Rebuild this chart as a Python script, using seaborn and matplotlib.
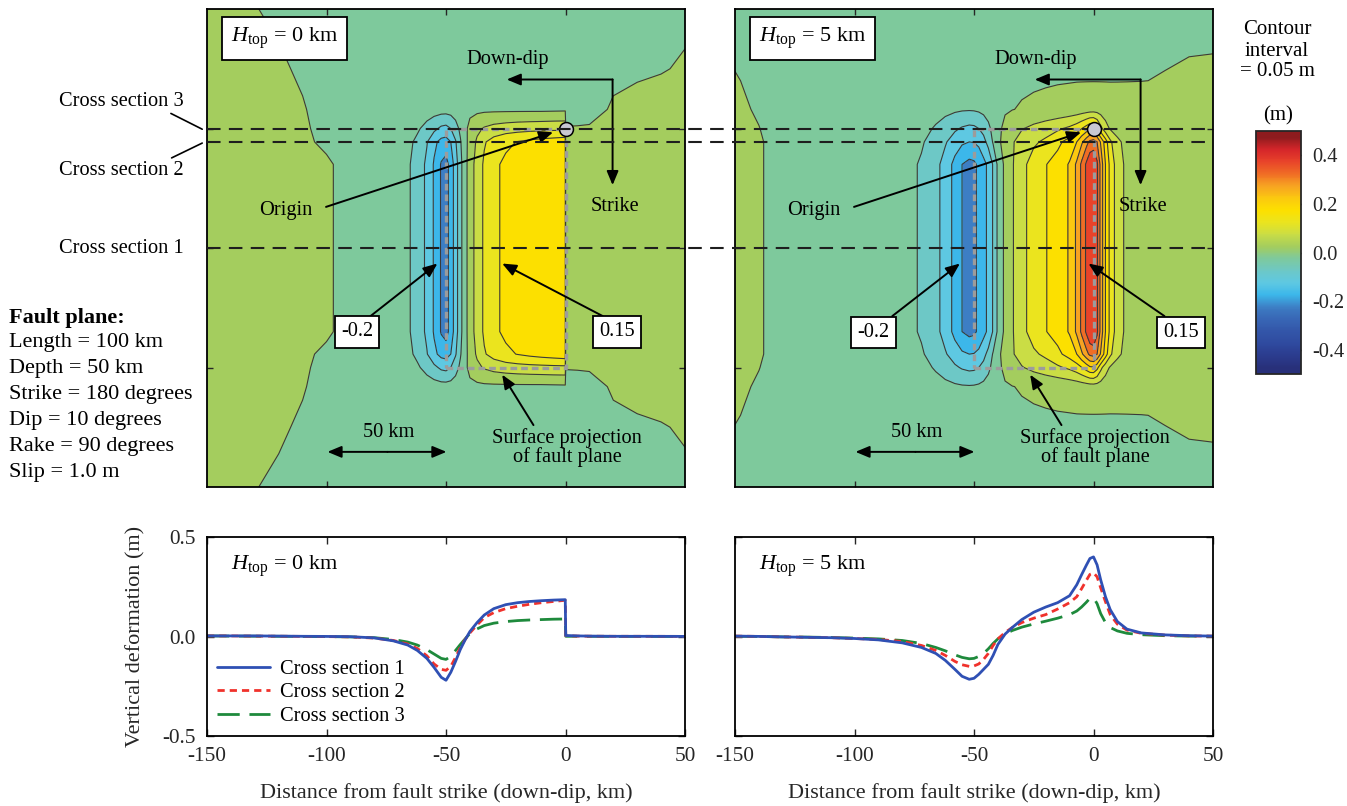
import numpy as np
import matplotlib
matplotlib.use("Agg")
import matplotlib.pyplot as plt
import seaborn as sns
from matplotlib.colors import LinearSegmentedColormap, Normalize
from matplotlib.cm import ScalarMappable

# ---- data ----
# down-dip distance from fault strike (km) where profiles were read
dist_h0 = [-150, -140, -130, -120, -110, -100, -90, -80, -72, -66,
           -62, -58, -55, -52, -50, -48, -46, -44, -42, -40,
           -37, -34, -30, -25, -20, -15, -10, -5, -0.1, 0.1,
           5, 10, 20, 30, 40, 50]
dist_h5 = [-150, -140, -130, -120, -110, -100, -90, -80, -72, -66,
           -62, -58, -55, -52, -50, -48, -46, -44, -42, -40,
           -37, -34, -30, -25, -20, -15, -10, -7, -5, -3,
           -1.5, 0, 1.5, 3, 5, 7, 10, 14, 20, 30,
           40, 50]

# vertical deformation (m), H_top = 0 km
cs1_h0 = [0.003, 0.003, 0.003, 0.002, 0.001, 0.0004, -0.001, -0.007, -0.022, -0.043,
          -0.07, -0.11, -0.155, -0.205, -0.22, -0.18, -0.125, -0.065, -0.017, 0.025,
          0.07, 0.108, 0.14, 0.16, 0.17, 0.176, 0.18, 0.183, 0.185, 0.005,
          0.003, 0.002, 0.001, 0.001, 0.0008, 0.0005]
cs2_h0 = [0.003, 0.003, 0.002, 0.0015, 0.0005, -0.0005, -0.002, -0.008, -0.02, -0.038,
          -0.06, -0.097, -0.138, -0.165, -0.17, -0.15, -0.105, -0.055, -0.015, 0.018,
          0.058, 0.095, 0.12, 0.14, 0.152, 0.162, 0.17, 0.176, 0.182, 0.004,
          0.002, 0.0015, 0.001, 0.001, 0.0008, 0.0005]
cs3_h0 = [0.003, 0.002, 0.0015, 0.001, 0.0003, -0.0006, -0.002, -0.006, -0.015, -0.028,
          -0.043, -0.066, -0.088, -0.11, -0.115, -0.1, -0.07, -0.04, -0.012, 0.015,
          0.038, 0.055, 0.067, 0.075, 0.08, 0.083, 0.085, 0.087, 0.088, 0.001,
          0.001, 0.0008, 0.0006, 0.0005, 0.0004, 0.0003]
# rows beyond the fault ends (8, 25, 50 km past the end)
end8_h0 = [0.003, 0.002, 0.0015, 0.001, 0.0002, -0.001, -0.003, -0.006, -0.01, -0.015,
           -0.02, -0.025, -0.028, -0.03, -0.03, -0.028, -0.024, -0.02, -0.016, -0.013,
           -0.011, -0.01, -0.01, -0.01, -0.01, -0.01, -0.01, -0.009, -0.008, -0.008,
           -0.006, -0.003, 0.001, 0.002, 0.002, 0.002]
end25_h0 = [0.002, 0.0015, 0.001, 0.0004, -0.0004, -0.001, -0.002, -0.004, -0.006, -0.008,
            -0.009, -0.01, -0.011, -0.011, -0.011, -0.011, -0.01, -0.01, -0.009, -0.009,
            -0.008, -0.008, -0.007, -0.007, -0.006, -0.006, -0.005, -0.005, -0.004, -0.004,
            -0.004, -0.003, -0.002, -0.001, -0.0003, 0.0005]
end50_h0 = [0.001, 0.0005, 0.0001, -0.0005, -0.001, -0.0015, -0.002, -0.003, -0.004, -0.004,
            -0.005, -0.005, -0.005, -0.005, -0.005, -0.005, -0.005, -0.005, -0.005, -0.005,
            -0.004, -0.004, -0.004, -0.004, -0.003, -0.003, -0.003, -0.003, -0.003, -0.003,
            -0.003, -0.002, -0.002, -0.002, -0.001, -0.001]

# vertical deformation (m), H_top = 5 km
cs1_h5 = [0.002, 0.0005, -0.002, -0.004, -0.006, -0.01, -0.017, -0.032, -0.055, -0.085,
          -0.12, -0.165, -0.2, -0.215, -0.21, -0.19, -0.165, -0.14, -0.095, -0.04,
          0.012, 0.045, 0.085, 0.122, 0.148, 0.17, 0.205, 0.26, 0.31, 0.358,
          0.392, 0.4, 0.36, 0.285, 0.2, 0.135, 0.075, 0.037, 0.018, 0.008,
          0.004, 0.002]
cs2_h5 = [0.002, 0.0005, -0.002, -0.004, -0.006, -0.01, -0.015, -0.025, -0.045, -0.07,
          -0.095, -0.125, -0.142, -0.15, -0.148, -0.138, -0.115, -0.085, -0.045, -0.012,
          0.02, 0.045, 0.07, 0.092, 0.11, 0.138, 0.17, 0.2, 0.24, 0.282,
          0.312, 0.32, 0.3, 0.245, 0.175, 0.11, 0.062, 0.032, 0.016, 0.007,
          0.003, 0.002]
cs3_h5 = [0.001, 0.0001, -0.002, -0.003, -0.005, -0.008, -0.012, -0.02, -0.035, -0.055,
          -0.072, -0.092, -0.105, -0.112, -0.11, -0.1, -0.085, -0.062, -0.035, -0.012,
          0.012, 0.03, 0.047, 0.063, 0.077, 0.092, 0.11, 0.128, 0.148, 0.172,
          0.192, 0.195, 0.165, 0.115, 0.07, 0.045, 0.028, 0.016, 0.009, 0.004,
          0.002, 0.001]
end8_h5 = [0.001, -0.0005, -0.003, -0.005, -0.008, -0.011, -0.015, -0.02, -0.026, -0.032,
           -0.037, -0.042, -0.045, -0.046, -0.045, -0.042, -0.036, -0.028, -0.02, -0.012,
           -0.005, -0.001, 0.003, 0.006, 0.009, 0.012, 0.016, 0.019, 0.022, 0.025,
           0.027, 0.028, 0.027, 0.025, 0.022, 0.019, 0.016, 0.012, 0.009, 0.006,
           0.004, 0.003]
end20_h5 = [0.0003, -0.001, -0.003, -0.005, -0.007, -0.009, -0.011, -0.014, -0.016, -0.018,
            -0.019, -0.02, -0.02, -0.02, -0.02, -0.019, -0.018, -0.016, -0.014, -0.012,
            -0.01, -0.008, -0.006, -0.004, -0.003, -0.002, -0.0015, -0.001, -0.001, -0.001,
            -0.001, -0.001, -0.001, -0.001, -0.001, -0.001, -0.0008, -0.0005, -0.0002, 0.0005,
            0.001, 0.0012]
end50_h5 = [-0.002, -0.003, -0.003, -0.004, -0.004, -0.005, -0.005, -0.006, -0.006, -0.006,
            -0.006, -0.006, -0.006, -0.006, -0.006, -0.006, -0.006, -0.006, -0.006, -0.005,
            -0.005, -0.005, -0.005, -0.004, -0.004, -0.004, -0.004, -0.004, -0.004, -0.004,
            -0.004, -0.004, -0.004, -0.004, -0.004, -0.004, -0.004, -0.003, -0.003, -0.003,
            -0.002, -0.002]

# along-strike position (km from origin) of each map row
rows_y_h0 = [-150, -125, -108, -100, -94.4, -85, -50, -15, -5.6, 0, 8, 25, 50]
rows_y_h5 = [-150, -120, -108, -100, -94.4, -85, -50, -15, -5.6, 0, 8, 20, 50]
rows_h0 = [end50_h0, end25_h0, end8_h0, cs3_h0, cs2_h0, cs1_h0, cs1_h0, cs1_h0,
           cs2_h0, cs3_h0, end8_h0, end25_h0, end50_h0]
rows_h5 = [end50_h5, end20_h5, end8_h5, cs3_h5, cs2_h5, cs1_h5, cs1_h5, cs1_h5,
           cs2_h5, cs3_h5, end8_h5, end20_h5, end50_h5]

cross_section_y = [-50, -5.6, 0]
fault_x = [-50, 0]
fault_y = [-100, 0]
origin_xy = (0, 0)

levels = np.round(np.arange(-0.5, 0.501, 0.05), 2)
band_colors = ['#28307a', '#2b3c8e', '#2f4a9f', '#3356a9', '#3866b5',
               '#3d7ec4', '#3cb7ea', '#5ec8e2', '#6dc8c6', '#7ec99c',
               '#a4cd5e', '#cadd45', '#ebe41e', '#fce000', '#fbc810',
               '#f7a322', '#f06d25', '#e8432a', '#d5262a', '#8e1b1e']

fault_info = ["Length = 100 km", "Depth = 50 km", "Strike = 180 degrees",
              "Dip = 10 degrees", "Rake = 90 degrees", "Slip = 1.0 m"]

# ---- style ----
sns.set_style("ticks")
plt.rcParams['font.family'] = ['Liberation Serif', 'DejaVu Serif']
plt.rcParams['mathtext.fontset'] = 'custom'
plt.rcParams['mathtext.rm'] = 'Liberation Serif'
plt.rcParams['mathtext.it'] = 'Liberation Serif:italic'
plt.rcParams['axes.unicode_minus'] = False
plt.rcParams['text.color'] = 'black'
plt.rcParams['contour.negative_linestyle'] = 'solid'

FS = 14.7
W, H = 1347, 806
fig = plt.figure(figsize=(W / 100, H / 100), dpi=100)


def box(l, t, r, b):
    return [l / W, 1 - b / H, (r - l) / W, (b - t) / H]


axL = fig.add_axes(box(207, 9, 685, 487))
axR = fig.add_axes(box(735, 9, 1213, 487))
axBL = fig.add_axes(box(207, 537, 685, 736))
axBR = fig.add_axes(box(735, 537, 1213, 736))
cax = fig.add_axes(box(1256, 131, 1301, 374))


def arrow(ax, tail, head, style='-|>'):
    ax.annotate('', xy=head, xytext=tail, zorder=8,
                arrowprops=dict(arrowstyle=style + ',head_length=0.6,head_width=0.25',
                                color='black', lw=1.4, mutation_scale=14,
                                shrinkA=0, shrinkB=0))


def draw_map(ax, dist, rows_y, rows, htop, val_label, val_xy, val_tail, val_head,
             neg_xy, neg_tail, neg_head):
    z = np.array(rows)
    ax.contourf(dist, rows_y, z, levels=levels, colors=band_colors, zorder=0)
    ax.contour(dist, rows_y, z, levels=levels, colors='#3a3a3a', linewidths=0.8,
               linestyles='solid', zorder=1)
    fx = [fault_x[0], fault_x[1], fault_x[1], fault_x[0], fault_x[0]]
    fy = [fault_y[0], fault_y[0], fault_y[1], fault_y[1], fault_y[0]]
    ax.plot(fx, fy, color='#9c9c9c', lw=2.4, linestyle=(0, (2, 1.2)), zorder=3)
    ax.plot(*origin_xy, 'o', ms=10, mfc='#c8c8d2', mec='black', mew=1.1, zorder=10)
    ax.set_xlim(-150, 50)
    ax.set_ylim(-150, 50)
    ax.set_xticks([-100, -50, 0])
    ax.set_yticks([-100, -50, 0])
    ax.tick_params(direction='in', top=True, right=True, length=4, width=1,
                   labelbottom=False, labelleft=False)
    for s in ax.spines.values():
        s.set_linewidth(1.3)
        s.set_color('black')

    ax.text(-117.5, 37.8, r"$H_{\mathrm{top}}$ = %d km" % htop, fontsize=16,
            ha='center', va='center', zorder=9,
            bbox=dict(boxstyle='square,pad=0.4', fc='white', ec='black', lw=1.3))
    ax.text(-24.2, 29, "Down-dip", fontsize=FS, ha='center', va='center', zorder=9)
    arrow(ax, (19.7, 20.5), (-24.6, 20.5))
    arrow(ax, (19.7, 20.5), (19.7, -23.7))
    ax.text(20.5, -32.8, "Strike", fontsize=FS, ha='center', va='center', zorder=9)
    ax.text(-117.2, -34.5, "Origin", fontsize=FS, ha='center', va='center', zorder=9)
    arrow(ax, (-100.2, -32.8), (-5.2, -1.6))
    ax.text(*neg_xy, "-0.2", fontsize=FS, ha='center', va='center', zorder=9,
            bbox=dict(boxstyle='square,pad=0.3', fc='white', ec='black', lw=1.3))
    arrow(ax, neg_tail, neg_head)
    ax.text(*val_xy, val_label, fontsize=FS, ha='center', va='center', zorder=9,
            bbox=dict(boxstyle='square,pad=0.3', fc='white', ec='black', lw=1.3))
    arrow(ax, val_tail, val_head)
    ax.text(-74.1, -127, "50 km", fontsize=FS, ha='center', va='center', zorder=9)
    arrow(ax, (-74.5, -135.3), (-99.6, -135.3))
    arrow(ax, (-74.5, -135.3), (-49.8, -135.3))
    ax.text(0.8, -133.4, "Surface projection\nof fault plane", fontsize=FS,
            ha='center', va='center', linespacing=0.95, zorder=9)
    arrow(ax, (-13.4, -124.1), (-26.5, -103))


draw_map(axL, dist_h0, rows_y_h0, rows_h0, 0, "0.15", (21.6, -85.1), (15.6, -78.5),
         (-26.5, -56.5), (-87.2, -85.1), (-81.6, -78.5), (-53.6, -56.5))
draw_map(axR, dist_h5, rows_y_h5, rows_h5, 5, "0.15", (36.5, -85.2), (29.7, -78.5),
         (-2.1, -56.5), (-92.1, -85.2), (-84.2, -78.5), (-55.9, -56.5))

# cross-section lines run across both maps and the gap
x_start = axR.transData.inverted().transform(axL.transAxes.transform((0, 0)))[0]
for y in cross_section_y:
    axR.plot([x_start, 50], [y, y], color='#1e1e1e', lw=1.5,
             linestyle=(0, (6.5, 4)), clip_on=False, zorder=6)

# cross-section labels left of the first map
axL.text(-159.6, 11.5, "Cross section 3", fontsize=FS, ha='right', va='center')
axL.text(-159.6, -17.7, "Cross section 2", fontsize=FS, ha='right', va='center')
axL.text(-159.6, -50.2, "Cross section 1", fontsize=FS, ha='right', va='center')
axL.plot([-165.1, -152], [6.3, -0.3], color='black', lw=1.2, clip_on=False)
axL.plot([-164.8, -152], [-12.3, -6.1], color='black', lw=1.2, clip_on=False)

fig.text(9 / W, 1 - 318 / H, "Fault plane:", fontsize=16, fontweight='bold',
         ha='left', va='center')
for i, line in enumerate(fault_info):
    fig.text(9 / W, 1 - (343 + 25.8 * i) / H, line, fontsize=16, ha='left', va='center')

# colour bar
cmap = LinearSegmentedColormap.from_list(
    'defo', [(0, band_colors[0])] +
    [((i + 0.5) / len(band_colors), c) for i, c in enumerate(band_colors)] +
    [(1, band_colors[-1])])
sm = ScalarMappable(norm=Normalize(-0.5, 0.5), cmap=cmap)
cbar = fig.colorbar(sm, cax=cax, ticks=[-0.4, -0.2, 0.0, 0.2, 0.4], format='%.1f')
cbar.outline.set_linewidth(1.3)
cax.tick_params(direction='in', left=True, right=True, length=4, width=1,
                labelsize=FS, pad=8)
fig.text(1278 / W, 1 - 116 / H, "(m)", fontsize=15, ha='center', va='center')
fig.text(1277 / W, 1 - 30 / H, "Contour", fontsize=15, ha='center', va='center')
fig.text(1277 / W, 1 - 51 / H, "interval", fontsize=15, ha='center', va='center')
fig.text(1277 / W, 1 - 72 / H, "= 0.05 m", fontsize=15, ha='center', va='center')

# ---- profiles ----
blue, red, green = '#2f50b4', '#f0322c', '#1e8a3c'


def draw_profiles(ax, dist, p1, p2, p3, htop, legend):
    kw = dict(ax=ax, sort=False, errorbar=None, legend=False)
    sns.lineplot(x=dist, y=p3, color=green, lw=2.0, linestyle=(0, (8, 3.5)),
                 label='Cross section 3', **kw)
    sns.lineplot(x=dist, y=p2, color=red, lw=2.0, linestyle=(0, (2.6, 1.8)),
                 label='Cross section 2', **kw)
    sns.lineplot(x=dist, y=p1, color=blue, lw=2.0, label='Cross section 1', **kw)
    ax.set_xlim(-150, 50)
    ax.set_ylim(-0.5, 0.5)
    ax.set_xticks([-150, -100, -50, 0, 50])
    ax.set_yticks([-0.5, 0.0, 0.5])
    ax.tick_params(direction='in', top=True, right=True, length=5, width=1,
                   labelsize=15.3, pad=8)
    for s in ax.spines.values():
        s.set_linewidth(1.3)
        s.set_color('black')
    ax.set_xlabel("Distance from fault strike (down-dip, km)", fontsize=16, labelpad=12)
    ax.text(-140, 0.355, r"$H_{\mathrm{top}}$ = %d km" % htop, fontsize=16,
            ha='left', va='center')
    if legend:
        h, l = ax.get_legend_handles_labels()
        order = [2, 1, 0]
        ax.legend([h[i] for i in order], [l[i] for i in order], loc='lower left',
                  frameon=False, fontsize=FS, handlelength=2.6, handletextpad=0.5,
                  labelspacing=0.2, borderaxespad=0.3, borderpad=0.2)


draw_profiles(axBL, dist_h0, cs1_h0, cs2_h0, cs3_h0, 0, True)
draw_profiles(axBR, dist_h5, cs1_h5, cs2_h5, cs3_h5, 5, False)
axBL.yaxis.set_major_formatter(matplotlib.ticker.FormatStrFormatter('%.1f'))
axBL.set_ylabel("Vertical deformation (m)", fontsize=16, labelpad=12)
axBR.tick_params(labelleft=False)

fig.savefig("out.png", dpi=100)
